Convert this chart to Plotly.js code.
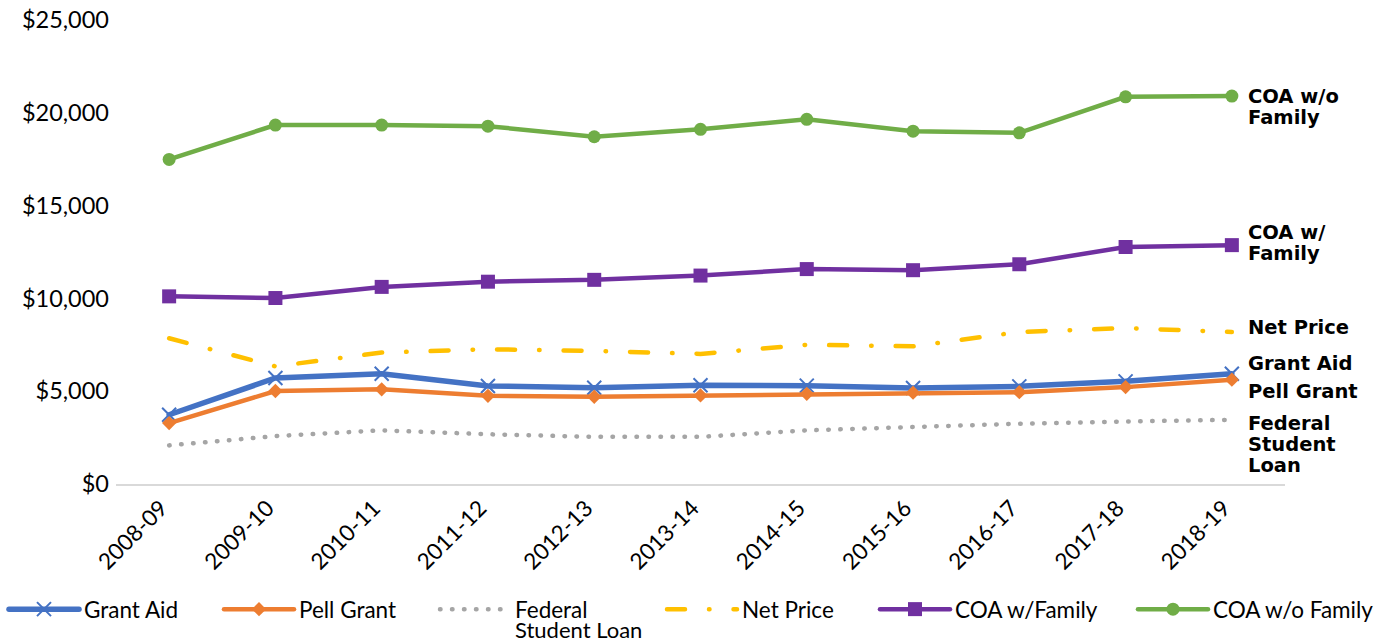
<!DOCTYPE html>
<html>
<head>
<meta charset="utf-8">
<script src="https://cdn.plot.ly/plotly-3.0.1.min.js"></script>
<style>
html,body{margin:0;padding:0;background:#fff;}
#chart{width:1391px;height:643px;}
.js-line{stroke-linecap:round;}
</style>
</head>
<body>
<div id="chart"></div>
<script>
var years = ['2008-09','2009-10','2010-11','2011-12','2012-13','2013-14','2014-15','2015-16','2016-17','2017-18','2018-19'];
var grantAid = [3730, 5710, 5940, 5280, 5190, 5320, 5300, 5170, 5260, 5530, 5940];
var pellGrant = [3280, 5010, 5100, 4750, 4700, 4770, 4860, 4920, 4950, 5220, 5620];
var federalStudentLoan = [2080, 2580, 2890, 2680, 2540, 2540, 2890, 3100, 3250, 3370, 3460];
var netPrice = [7850, 6340, 7080, 7260, 7170, 7010, 7500, 7420, 8190, 8400, 8190];
var coaWithFamily = [10110, 10020, 10620, 10900, 11000, 11230, 11580, 11520, 11840, 12770, 12870];
var coaWithoutFamily = [17490, 19340, 19340, 19280, 18710, 19110, 19650, 19010, 18920, 20860, 20900];
var yTickVals = [0, 5000, 10000, 15000, 20000, 25000];
var yTickText = ['$0', '$5,000', '$10,000', '$15,000', '$20,000', '$25,000'];

var REG = 'Lato, "Open Sans", sans-serif';
var BOLD = '"DejaVu Sans", sans-serif';
var W = 1391, H = 643;
var M = {l:116, r:106, t:20, b:159};
var plotW = W - M.l - M.r, plotH = H - M.t - M.b;

var traces = [
  {name:'Grant Aid', y:grantAid, legend:'legend', line:{color:'#4472C4', width:5.5},
   marker:{symbol:'x-thin', size:14, color:'#4472C4', line:{color:'#4472C4', width:2}}},
  {name:'Pell Grant', y:pellGrant, legend:'legend2', line:{color:'#ED7D31', width:4.5},
   marker:{symbol:'diamond', size:11, color:'#ED7D31'}},
  {name:'Federal', y:federalStudentLoan, legend:'legend3', mode:'lines',
   line:{color:'#A5A5A5', width:4.5, dash:'0.5px,11.5px'}},
  {name:'Net Price', y:netPrice, legend:'legend4', mode:'lines',
   line:{color:'#FFC000', width:4.5, dash:'18px,24px,0.5px,24px'}},
  {name:'COA w/Family', y:coaWithFamily, legend:'legend5', line:{color:'#7030A0', width:4.5},
   marker:{symbol:'square', size:14, color:'#7030A0'}},
  {name:'COA w/o Family', y:coaWithoutFamily, legend:'legend6', line:{color:'#70AD47', width:4.5},
   marker:{symbol:'circle', size:13, color:'#70AD47'}}
].map(function(t){
  return Object.assign({type:'scatter', mode:'lines+markers', x:years, hoverinfo:'skip'}, t);
});

var last = years.length - 1;
function lab(text, series, yshift){
  return {x:years[last], y:series[last], xref:'x', yref:'y', text:'<b>'+text+'</b>',
    showarrow:false, xanchor:'left', yanchor:'middle', xshift:14, yshift:yshift,
    font:{family:BOLD, size:19.5, color:'#000'}};
}
var annotations = [
  lab('COA w/o', coaWithoutFamily, 0),
  lab('Family', coaWithoutFamily, -21),
  lab('COA w/', coaWithFamily, 13),
  lab('Family', coaWithFamily, -8),
  lab('Net Price', netPrice, 4),
  lab('Grant Aid', grantAid, 10),
  lab('Pell Grant', pellGrant, -12),
  lab('Federal', federalStudentLoan, -4),
  lab('Student', federalStudentLoan, -25),
  lab('Loan', federalStudentLoan, -46),
  // second line of the "Federal / Student Loan" legend entry
  {xref:'paper', yref:'paper', x:(513 - M.l) / plotW, y:(H - M.b - 629) / plotH,
   xanchor:'left', yanchor:'middle', showarrow:false, text:'Student Loan',
   font:{family:REG, size:22, color:'#000'}}
];

function legendAt(px){
  return {orientation:'h', xref:'container', yref:'container', x:px / W, y:(H - 588) / H,
    xanchor:'left', yanchor:'top', itemwidth:70, valign:'top',
    font:{family:REG, size:22.5, color:'#000'}, bgcolor:'rgba(0,0,0,0)'};
}

var layout = {
  width:W, height:H,
  margin:M,
  paper_bgcolor:'#fff', plot_bgcolor:'#fff',
  showlegend:true,
  xaxis:{type:'category', range:[-0.5, 10.5], showgrid:false, zeroline:false,
    showline:true, linecolor:'#D9D9D9', linewidth:2, ticks:'',
    tickangle:-45, ticklabelstandoff:0, ticklabelshift:-8,
    tickfont:{family:REG, size:22.5, color:'#000'}},
  yaxis:{range:[0, 25000], showgrid:false, zeroline:false, showline:false, ticks:'',
    tickvals:yTickVals, ticktext:yTickText, ticklabelstandoff:6,
    tickfont:{family:REG, size:23.5, color:'#000'}},
  legend:legendAt(4),
  legend2:legendAt(219),
  legend3:legendAt(435),
  legend4:legendAt(662),
  legend5:legendAt(875),
  legend6:legendAt(1133),
  annotations:annotations
};

Plotly.newPlot('chart', traces, layout, {displayModeBar:false, staticPlot:true});
</script>
</body>
</html>
